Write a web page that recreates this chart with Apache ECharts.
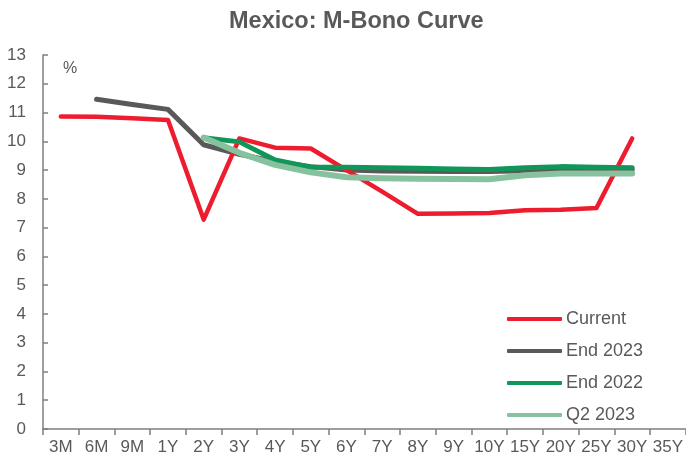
<!DOCTYPE html>
<html>
<head>
<meta charset="utf-8">
<script src="https://cdn.jsdelivr.net/npm/echarts@6/dist/echarts.min.js"></script>
<style>
  html, body { margin: 0; padding: 0; background: #fff; }
  #chart { width: 686px; height: 464px; }
</style>
</head>
<body>
<div id="chart"></div>
<script>
const categories = ['3M', '6M', '9M', '1Y', '2Y', '3Y', '4Y', '5Y', '6Y', '7Y', '8Y', '9Y', '10Y', '15Y', '20Y', '25Y', '30Y', '35Y']
const current = [10.86, 10.85, 10.8, 10.74, 7.28, 10.1, 9.78, 9.75, 9.0, 8.25, 7.48, 7.49, 7.51, 7.6, 7.62, 7.68, 10.1, null]
const end2023 = [null, 11.46, 11.28, 11.11, 9.88, 9.55, 9.3, 9.12, 9.0, 8.97, 8.96, 8.95, 8.95, 8.98, 9.02, 9.02, 9.02, null]
const end2022 = [null, null, null, null, 10.12, 9.98, 9.35, 9.1, 9.1, 9.08, 9.06, 9.04, 9.02, 9.08, 9.12, 9.1, 9.08, null]
const q22023 = [null, null, null, null, 10.13, 9.6, 9.18, 8.92, 8.75, 8.72, 8.7, 8.69, 8.68, 8.82, 8.88, 8.88, 8.88, null]
const yTicks = { min: 0, max: 13, step: 1 }

const textColor = '#595959'
const font = 'Liberation Sans, Arial, sans-serif'

const chart = echarts.init(document.getElementById('chart'))

const mkLine = (name, data, color, width, z) => ({
  name,
  type: 'line',
  data,
  color,
  symbol: 'none',
  z,
  connectNulls: false,
  lineStyle: { color, width, cap: 'round', join: 'round' }
})

chart.setOption({
  animation: false,
  title: {
    text: 'Mexico: M-Bono Curve',
    left: 224,
    top: 5,
    textStyle: { color: textColor, fontFamily: font, fontSize: 23.5, fontWeight: 'bold' }
  },
  grid: { left: 43, right: 0, top: 55, bottom: 35 },
  legend: {
    orient: 'vertical',
    left: 502,
    top: 305,
    icon: 'roundRect',
    itemWidth: 55,
    itemHeight: 4,
    itemGap: 14,
    textStyle: { color: textColor, fontFamily: font, fontSize: 18, padding: [0, 0, 0, -1] },
    data: ['Current', 'End 2023', 'End 2022', 'Q2 2023']
  },
  graphic: [{
    type: 'text',
    left: 63,
    top: 61,
    style: { text: '%', fill: textColor, font: '16px ' + font }
  }],
  xAxis: {
    type: 'category',
    data: categories,
    boundaryGap: true,
    axisLine: { lineStyle: { color: '#7f7f7f', width: 1.5 } },
    axisTick: { show: true, interval: 0, length: 6, lineStyle: { color: '#7f7f7f', width: 1.5 } },
    axisLabel: { interval: 0, color: textColor, fontFamily: font, fontSize: 17, margin: 10 },
    splitLine: { show: false }
  },
  yAxis: {
    type: 'value',
    min: yTicks.min,
    max: yTicks.max,
    interval: yTicks.step,
    axisLine: { show: true, lineStyle: { color: '#7f7f7f', width: 1.5 } },
    axisTick: { show: true, inside: true, length: 5, lineStyle: { color: '#7f7f7f', width: 1.5 } },
    axisLabel: { color: textColor, fontFamily: font, fontSize: 17, margin: 17 },
    splitLine: { show: false }
  },
  series: [
    mkLine('End 2023', end2023, '#595959', 5, 2),
    mkLine('Current', current, '#ED1C2E', 4.5, 3),
    mkLine('End 2022', end2022, '#11965A', 5, 4),
    mkLine('Q2 2023', q22023, '#86C29D', 6, 5)
  ]
})
</script>
</body>
</html>
